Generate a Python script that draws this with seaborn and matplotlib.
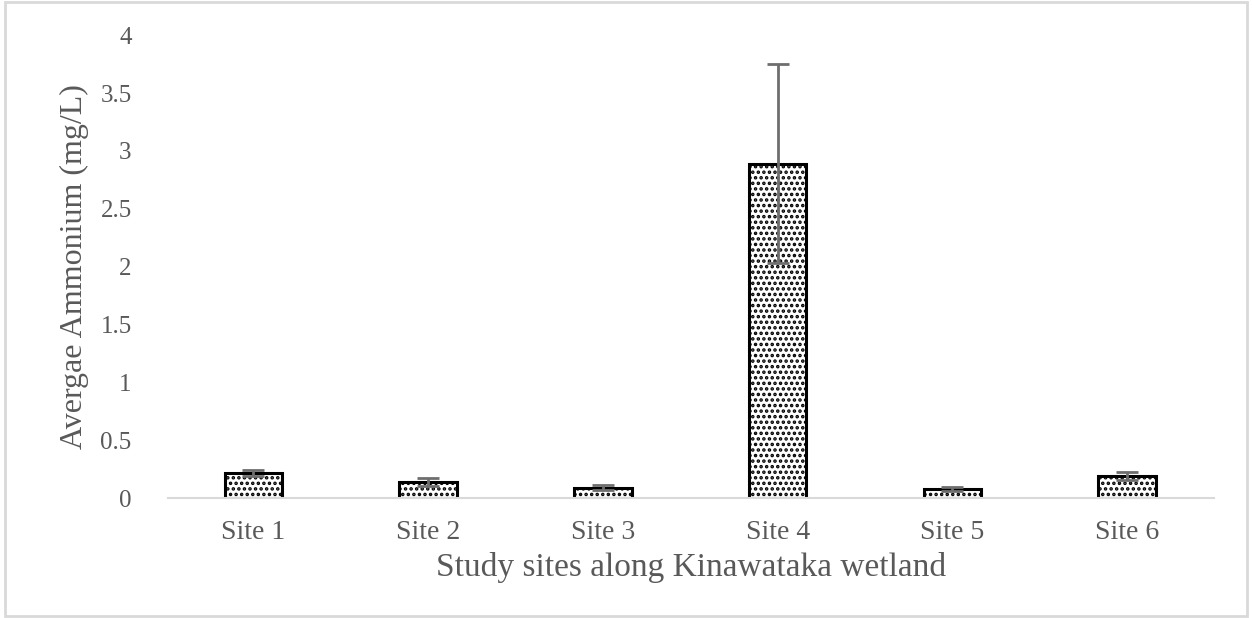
import matplotlib
matplotlib.use("Agg")
import matplotlib.pyplot as plt
import seaborn as sns
import pandas as pd
from matplotlib.patches import Rectangle
from matplotlib.ticker import FuncFormatter

sites = ["Site 1", "Site 2", "Site 3", "Site 4", "Site 5", "Site 6"]
ammonium = [0.22, 0.14, 0.09, 2.89, 0.08, 0.19]
ammonium_err = [0.025, 0.035, 0.02, 0.86, 0.02, 0.035]

sns.set_theme(style="white")
plt.rcParams["font.family"] = ["Liberation Serif", "DejaVu Serif"]
plt.rcParams["hatch.linewidth"] = 1.7
plt.rcParams["hatch.color"] = "black"

df = pd.DataFrame({"site": sites, "value": ammonium})

fig = plt.figure(figsize=(12.52, 6.18), dpi=100)
ax = fig.add_axes([0.134, 0.194, 0.836, 0.749])

sns.barplot(data=df, x="site", y="value", ax=ax, color="white",
            width=0.33, edgecolor="black", linewidth=2.2, errorbar=None)
for p in ax.patches:
    p.set_hatch("...")
    p.set_facecolor("white")

ax.errorbar(range(len(sites)), ammonium, yerr=ammonium_err, fmt="none",
            ecolor="#6e6e6e", elinewidth=2, capsize=8, capthick=2, zorder=3)

ax.set_ylim(0, 4)
ax.set_yticks([0, 0.5, 1, 1.5, 2, 2.5, 3, 3.5, 4])
ax.yaxis.set_major_formatter(FuncFormatter(lambda v, _: f"{v:g}"))
ax.set_xlim(-0.49, 5.5)

for s in ["top", "right", "left"]:
    ax.spines[s].set_visible(False)
ax.spines["bottom"].set_color("#d9d9d9")
ax.spines["bottom"].set_linewidth(1.5)
ax.tick_params(axis="y", length=0, labelsize=18, colors="#595959", pad=26)
ax.tick_params(axis="x", length=0, labelsize=20, colors="#595959", pad=16)

ax.set_xlabel("Study sites along Kinawataka wetland", fontsize=24,
              color="#595959", labelpad=5)
ax.set_ylabel("Avergae Ammonium (mg/L)", fontsize=23, color="#595959",
              labelpad=8)

fig.patches.append(Rectangle((0.004, 0.004), 0.992, 0.992, transform=fig.transFigure,
                             fill=False, edgecolor="#d9d9d9", linewidth=2))

fig.savefig("out.png", dpi=100)
